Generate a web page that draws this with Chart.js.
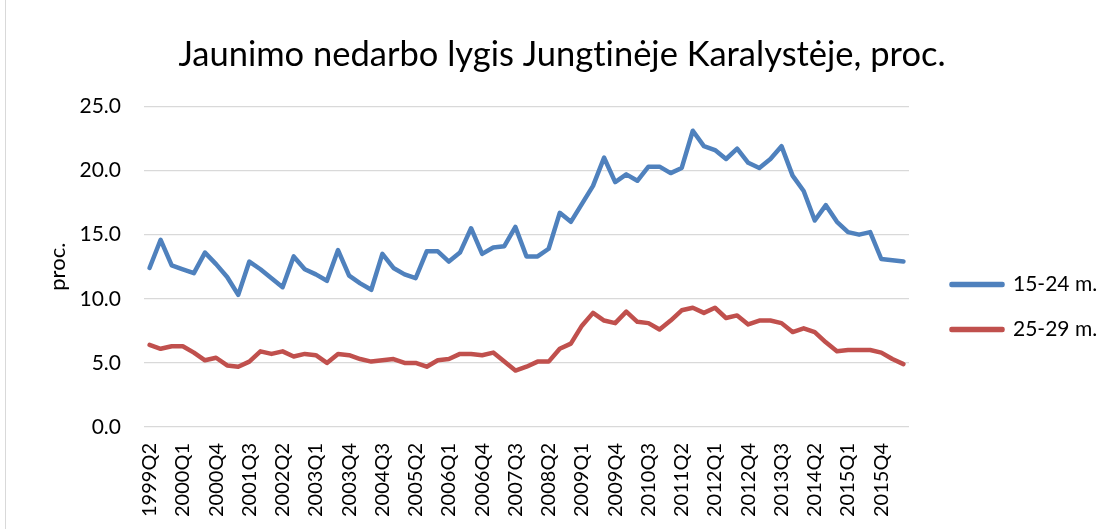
<!DOCTYPE html>
<html><head><meta charset="utf-8">
<script src="https://cdn.jsdelivr.net/npm/chart.js@4.4.1/dist/chart.umd.min.js"></script>
<style>
html,body{margin:0;padding:0;background:#fff;}
#wrap{position:relative;width:1106px;height:529px;overflow:hidden;}
#frame{position:absolute;left:5px;top:0;width:0;height:529px;border-left:1px solid #d9d9d9;}
canvas{position:absolute;left:0;top:0;}
</style></head><body>
<div id="wrap"><div id="frame"></div><canvas id="c" width="1106" height="529"></canvas></div>
<script>
const chartTitle = 'Jaunimo nedarbo lygis Jungtinėje Karalystėje, proc.';
const yAxisTitle = 'proc.';
const quarters = [
 '1999Q2','1999Q3','1999Q4','2000Q1','2000Q2','2000Q3','2000Q4','2001Q1','2001Q2','2001Q3',
 '2001Q4','2002Q1','2002Q2','2002Q3','2002Q4','2003Q1','2003Q2','2003Q3','2003Q4','2004Q1',
 '2004Q2','2004Q3','2004Q4','2005Q1','2005Q2','2005Q3','2005Q4','2006Q1','2006Q2','2006Q3',
 '2006Q4','2007Q1','2007Q2','2007Q3','2007Q4','2008Q1','2008Q2','2008Q3','2008Q4','2009Q1',
 '2009Q2','2009Q3','2009Q4','2010Q1','2010Q2','2010Q3','2010Q4','2011Q1','2011Q2','2011Q3',
 '2011Q4','2012Q1','2012Q2','2012Q3','2012Q4','2013Q1','2013Q2','2013Q3','2013Q4','2014Q1',
 '2014Q2','2014Q3','2014Q4','2015Q1','2015Q2','2015Q3','2015Q4','2016Q1','2016Q2'
];
const tickLabelEvery = 3;
const seriesNames = ['15-24 m.', '25-29 m.'];
const age15to24 = [
 12.4,14.6,12.6,12.3,12.0,13.6,12.7,11.7,10.3,12.9,
 12.3,11.6,10.9,13.3,12.3,11.9,11.4,13.8,11.8,11.2,
 10.7,13.5,12.4,11.9,11.6,13.7,13.7,12.9,13.6,15.5,
 13.5,14.0,14.1,15.6,13.3,13.3,13.9,16.7,16.0,17.4,
 18.8,21.0,19.1,19.7,19.2,20.3,20.3,19.8,20.2,23.1,
 21.9,21.6,20.9,21.7,20.6,20.2,20.9,21.9,19.6,18.4,
 16.1,17.3,16.0,15.2,15.0,15.2,13.1,13.0,12.9
];
const age25to29 = [
 6.4,6.1,6.3,6.3,5.8,5.2,5.4,4.8,4.7,5.1,
 5.9,5.7,5.9,5.5,5.7,5.6,5.0,5.7,5.6,5.3,
 5.1,5.2,5.3,5.0,5.0,4.7,5.2,5.3,5.7,5.7,
 5.6,5.8,5.1,4.4,4.7,5.1,5.1,6.1,6.5,7.9,
 8.9,8.3,8.1,9.0,8.2,8.1,7.6,8.3,9.1,9.3,
 8.9,9.3,8.5,8.7,8.0,8.3,8.3,8.1,7.4,7.7,
 7.4,6.6,5.9,6.0,6.0,6.0,5.8,5.3,4.9
];
const yMin = 0, yMax = 25, yStep = 5;
const colors = ['#4F81BD', '#C0504D'];

const FONT = 'Lato, "Open Sans", sans-serif';

const noLigatures = {
  id: 'noLigatures',
  beforeDraw(chart) {
    try { chart.ctx.textRendering = 'optimizeSpeed'; } catch (e) {}
  }
};

const boxPlacer = {
  id: 'boxPlacer',
  afterLayout(chart) {
    const lg = chart.legend;
    const w = lg.width, h = lg.height;
    lg.left = 927.5; lg.right = lg.left + w;
    lg.top = 250; lg.bottom = lg.top + h;
    const tb = chart.titleBlock;
    if (tb) { tb.left = 18; tb.right = 1106; tb.width = tb.right - tb.left; }
  }
};

new Chart(document.getElementById('c'), {
  type: 'line',
  data: {
    labels: quarters,
    datasets: [
      { label: seriesNames[0], data: age15to24, borderColor: colors[0], backgroundColor: colors[0] },
      { label: seriesNames[1], data: age25to29, borderColor: colors[1], backgroundColor: colors[1] }
    ].map(d => Object.assign(d, {
      borderWidth: 4.5, pointRadius: 0, pointHoverRadius: 0, tension: 0,
      borderCapStyle: 'round', borderJoinStyle: 'round', fill: false
    }))
  },
  options: {
    responsive: false,
    animation: false,
    devicePixelRatio: 1,
    layout: { padding: { left: 0, right: 197, top: 0, bottom: 0 } },
    plugins: {
      tooltip: { enabled: false },
      title: {
        display: true, text: chartTitle, color: '#000',
        font: { family: FONT, size: 34.5, weight: 'normal' },
        padding: { top: 34, bottom: 31 }
      },
      legend: {
        position: 'chartArea', align: 'start',
        labels: {
          boxWidth: 51, boxHeight: 1, padding: 24, color: '#000',
          font: { family: FONT, size: 21 }
        }
      }
    },
    scales: {
      x: {
        type: 'category', offset: true,
        grid: { display: false, drawTicks: false },
        border: { display: false },
        ticks: {
          autoSkip: false, minRotation: 90, maxRotation: 90, padding: 16,
          color: '#000', font: { family: FONT, size: 20 },
          callback: (v, i) => (i % tickLabelEvery === 0 ? quarters[i] : '')
        },
        afterFit: s => { s.height = 102; }
      },
      y: {
        min: yMin, max: yMax,
        grid: { color: '#d9d9d9', lineWidth: 1.3, drawTicks: false },
        border: { display: false },
        ticks: {
          stepSize: yStep, padding: 23, color: '#000',
          font: { family: FONT, size: 21 },
          callback: v => Number(v).toFixed(1)
        },
        title: {
          display: true, text: yAxisTitle, color: '#000',
          font: { family: FONT, size: 22 }, padding: { top: 45, bottom: 0 }
        },
        afterFit: s => { s.width = 144; }
      }
    }
  },
  plugins: [noLigatures, boxPlacer]
});
</script>
</body></html>
